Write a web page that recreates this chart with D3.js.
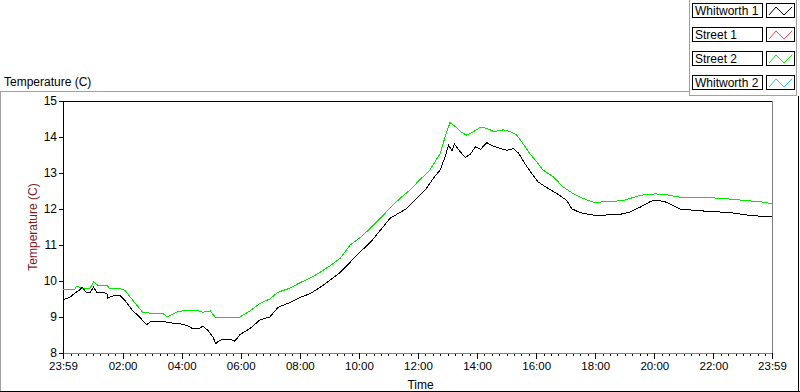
<!DOCTYPE html>
<html>
<head>
<meta charset="utf-8">
<script src="https://cdn.jsdelivr.net/npm/d3@7/dist/d3.min.js"></script>
<style>
body { margin: 0; background: #fff; }
svg { font-family: "Liberation Sans", Arial, sans-serif; display: block; }
</style>
</head>
<body>
<div class="canvas"></div>
<script>
// legend entries
const seriesNames = ['Whitworth 1', 'Street 1', 'Street 2', 'Whitworth 2'];
const seriesColors = ['#000000', '#ff4040', '#00e800', '#30b8ff'];

// y ticks
const tempTicks = [8, 9, 10, 11, 12, 13, 14, 15];

// readings: minutes after 23:59, temperature (C)
const w1Minutes = [0, 14, 28, 35, 39, 47, 55, 62, 69, 81, 89, 91, 104, 116, 126, 140, 156, 170, 177, 197,
    211, 223, 238, 251, 264, 278, 284, 295, 305, 310, 319, 333, 345, 349, 360, 380, 400, 420, 437, 461,
    481, 502, 522, 542, 563, 583, 603, 624, 644, 664, 684, 698, 718, 738, 752, 766, 776, 783, 790, 795,
    807, 817, 827, 838, 848, 861, 875, 888, 902, 915, 926, 938, 952, 965, 982, 1003, 1023, 1033, 1050, 1081,
    1131, 1152, 1172, 1192, 1202, 1223, 1253, 1294, 1355, 1395, 1440];
const w1Temp = [9.48, 9.55, 9.70, 9.76, 9.83, 9.68, 9.67, 9.83, 9.68, 9.68, 9.65, 9.53, 9.60, 9.60, 9.46, 9.20, 8.99, 8.78, 8.87, 8.87,
    8.86, 8.83, 8.81, 8.77, 8.67, 8.69, 8.75, 8.62, 8.43, 8.26, 8.36, 8.37, 8.36, 8.33, 8.52, 8.68, 8.92, 9.00, 9.27, 9.40,
    9.54, 9.65, 9.82, 10.02, 10.24, 10.52, 10.80, 11.07, 11.40, 11.74, 11.90, 12.01, 12.29, 12.57, 12.85, 13.08, 13.45, 13.77, 13.62, 13.80,
    13.59, 13.43, 13.52, 13.73, 13.66, 13.84, 13.74, 13.68, 13.63, 13.68, 13.54, 13.26, 12.99, 12.75, 12.60, 12.43, 12.24, 12.01, 11.90, 11.82,
    11.85, 11.92, 12.05, 12.20, 12.25, 12.20, 12.00, 11.95, 11.90, 11.82, 11.78];

const s2Minutes = [0, 24, 28, 39, 55, 62, 71, 89, 95, 116, 126, 142, 162, 183, 203, 211, 232, 252, 272, 284,
    299, 309, 359, 380, 400, 420, 437, 461, 481, 502, 522, 542, 563, 583, 603, 624, 644, 664, 684, 704,
    724, 745, 766, 776, 786, 796, 807, 820, 830, 848, 861, 875, 895, 908, 922, 934, 948, 962, 975, 996,
    1016, 1036, 1057, 1077, 1111, 1142, 1172, 1202, 1223, 1253, 1294, 1334, 1375, 1416, 1440];
const s2Temp = [9.77, 9.77, 9.86, 9.80, 9.80, 9.97, 9.88, 9.88, 9.79, 9.79, 9.74, 9.46, 9.13, 9.10, 9.10, 9.00, 9.14, 9.19, 9.19, 9.13,
    9.17, 9.00, 9.00, 9.17, 9.38, 9.50, 9.69, 9.80, 9.95, 10.08, 10.24, 10.42, 10.63, 11.00, 11.20, 11.46, 11.74, 12.02, 12.29, 12.52,
    12.80, 13.08, 13.54, 14.00, 14.40, 14.30, 14.15, 14.05, 14.12, 14.27, 14.24, 14.15, 14.20, 14.15, 14.05, 13.82, 13.54, 13.31, 13.08, 12.89,
    12.61, 12.43, 12.29, 12.19, 12.20, 12.25, 12.38, 12.42, 12.40, 12.33, 12.32, 12.30, 12.25, 12.20, 12.15];

const startTime = new Date(2000, 0, 1, 23, 59);
const toDate = m => new Date(startTime.getTime() + m * 60000);

const w1Data = w1Minutes.map((m, i) => ({ date: toDate(m), temp: w1Temp[i] }));
const s2Data = s2Minutes.map((m, i) => ({ date: toDate(m), temp: s2Temp[i] }));

const margin = { top: 101, right: 28, bottom: 39, left: 63 };
const width = 800, height = 392;
const graphWidth = width - margin.left - margin.right;
const graphHeight = height - margin.top - margin.bottom;

const svg = d3.select('.canvas')
    .append('svg')
    .attr('width', width)
    .attr('height', height);

// outer frame
const frame = svg.append('g').attr('shape-rendering', 'crispEdges');
frame.append('line').attr('x1', 0.5).attr('x2', 0.5).attr('y1', 91.5).attr('y2', 391.5).attr('stroke', '#a0a0a0');
frame.append('line').attr('x1', 0).attr('x2', 689.5).attr('y1', 91.5).attr('y2', 91.5).attr('stroke', '#a0a0a0');
frame.append('line').attr('x1', 0).attr('x2', 800).attr('y1', 391.5).attr('y2', 391.5).attr('stroke', '#000');
frame.append('line').attr('x1', 798.5).attr('x2', 798.5).attr('y1', 96).attr('y2', 392).attr('stroke', '#000');
// legend frame
frame.append('line').attr('x1', 689.5).attr('x2', 689.5).attr('y1', 0).attr('y2', 95.5).attr('stroke', '#a0a0a0');
frame.append('line').attr('x1', 689.5).attr('x2', 797).attr('y1', 95.5).attr('y2', 95.5).attr('stroke', '#a0a0a0');
frame.append('line').attr('x1', 796.5).attr('x2', 796.5).attr('y1', 0).attr('y2', 95.5).attr('stroke', '#a0a0a0');

// top-left label
svg.append('text')
    .attr('x', 4)
    .attr('y', 86)
    .attr('font-size', 12)
    .attr('fill', '#000')
    .text('Temperature (C)');

const graph = svg.append('g')
    .attr('transform', `translate(${margin.left},${margin.top})`);

//scales
const x = d3.scaleTime().domain([toDate(0), toDate(1440)]).range([0, graphWidth]);
const y = d3.scaleLinear().domain([8, 15]).range([graphHeight, 0]);

// plot border: top dark, right light
graph.append('line')
    .attr('x1', 0).attr('x2', graphWidth + 0.5)
    .attr('y1', 0.5).attr('y2', 0.5)
    .attr('stroke', '#000').attr('shape-rendering', 'crispEdges');
graph.append('line')
    .attr('x1', graphWidth + 0.5).attr('x2', graphWidth + 0.5)
    .attr('y1', 0).attr('y2', graphHeight)
    .attr('stroke', '#808080').attr('shape-rendering', 'crispEdges');

// x ticks: majors every 2 hours plus both ends, minors every 15 min
const majorTicks = [toDate(0)]
    .concat(d3.timeHour.every(2).range(toDate(60), toDate(1440)))
    .concat([toDate(1440)]);
const minorTicks = d3.timeMinute.every(15).range(toDate(2), toDate(1440));

const xAxisMinor = graph.append('g')
    .attr('transform', `translate(0,${graphHeight})`)
    .call(d3.axisBottom(x).tickValues(minorTicks).tickSize(3).tickFormat(''));
xAxisMinor.select('.domain').remove();

const xAxisGroup = graph.append('g')
    .attr('class', 'x-axis')
    .attr('transform', `translate(0,${graphHeight})`)
    .call(d3.axisBottom(x)
        .tickValues(majorTicks)
        .tickSize(6)
        .tickSizeOuter(0)
        .tickPadding(3)
        .tickFormat(d3.timeFormat('%H:%M')));
xAxisGroup.select('.domain').attr('stroke', '#808080');
xAxisGroup.selectAll('text')
    .attr('font-size', 11.5)
    .attr('fill', '#000')
    .attr('font-family', '"Liberation Sans", Arial, sans-serif');

const yAxisGroup = graph.append('g')
    .attr('class', 'y-axis')
    .call(d3.axisLeft(y)
        .tickValues(tempTicks)
        .tickSize(4)
        .tickSizeOuter(0)
        .tickPadding(2)
        .tickFormat(d3.format('d')));
yAxisGroup.select('.domain').attr('stroke', '#000');
yAxisGroup.selectAll('text')
    .attr('font-size', 12)
    .attr('fill', '#000')
    .attr('font-family', '"Liberation Sans", Arial, sans-serif');

svg.selectAll('.tick line').attr('stroke', '#000').attr('shape-rendering', 'crispEdges');

// axis titles
svg.append('text')
    .attr('transform', `translate(${margin.left + graphWidth / 2 + 3},389)`)
    .attr('text-anchor', 'middle')
    .attr('font-size', 12)
    .text('Time');

svg.append('text')
    .attr('transform', `translate(37,${margin.top + graphHeight / 2}) rotate(-90)`)
    .attr('text-anchor', 'middle')
    .attr('font-size', 12)
    .attr('fill', '#7a1c1c')
    .text('Temperature (C)');

//d3 line path generator
const line = d3.line()
    .x(d => x(d.date))
    .y(d => y(d.temp));

graph.append('path')
    .datum(s2Data)
    .attr('fill', 'none')
    .attr('stroke', seriesColors[2])
    .attr('stroke-width', 1)
    .attr('shape-rendering', 'crispEdges')
    .attr('d', line);

graph.append('path')
    .datum(w1Data)
    .attr('fill', 'none')
    .attr('stroke', seriesColors[0])
    .attr('stroke-width', 1)
    .attr('shape-rendering', 'crispEdges')
    .attr('d', line);

// legend
const legend = svg.append('g').attr('class', 'legend');
const rows = legend.selectAll('g')
    .data(seriesNames)
    .enter()
    .append('g')
    .attr('transform', (d, i) => `translate(0,${3 + i * 24})`);

rows.append('rect')
    .attr('x', 692.5).attr('y', 0.5)
    .attr('width', 70).attr('height', 14)
    .attr('fill', '#fff')
    .attr('stroke', '#000')
    .attr('shape-rendering', 'crispEdges');

rows.append('text')
    .attr('x', 695)
    .attr('y', 12)
    .attr('font-size', 12)
    .text(d => d);

rows.append('rect')
    .attr('x', 766.5).attr('y', 0.5)
    .attr('width', 28).attr('height', 14)
    .attr('fill', '#fff')
    .attr('stroke', '#000')
    .attr('shape-rendering', 'crispEdges');

rows.append('path')
    .attr('fill', 'none')
    .attr('stroke', (d, i) => seriesColors[i])
    .attr('d', 'M769,12 L776,4 L784,12 L792,4');
</script>
</body>
</html>
